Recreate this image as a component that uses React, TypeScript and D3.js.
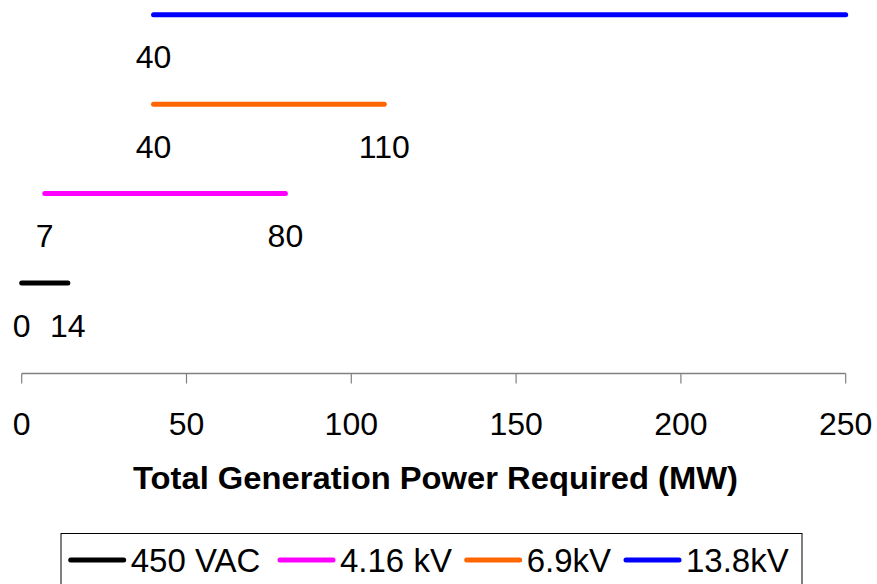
import React from "react";
import * as d3 from "d3";

const seriesNames = ["450 VAC", "4.16 kV", "6.9kV", "13.8kV"];
const rangeStart = [0, 7, 40, 40];
const rangeEnd = [14, 80, 110, 250];
const showEndLabel = [true, true, true, false];
const seriesColors = ["#000000", "#FF00FF", "#FF6600", "#0000FF"];
const xTicks = [0, 50, 100, 150, 200, 250];
const xTitle = "Total Generation Power Required (MW)";

const W = 877;
const H = 584;
const FONT = "'Liberation Sans', Arial, sans-serif";

export default function App() {
  const x = d3.scaleLinear().domain([0, 250]).range([21.7, 845.7]);
  // top-to-bottom order: 13.8kV, 6.9kV, 4.16 kV, 450 VAC
  const y = d3
    .scalePoint<string>()
    .domain([...seriesNames].reverse())
    .range([14.7, 283]);
  const axisY = 373.5;
  const legendX = [70.7, 280, 466.7, 626];

  return (
    <svg
      width={W}
      height={H}
      style={{ position: "absolute", left: 0, top: 0, background: "#fff" }}
      fontFamily={FONT}
    >
      {seriesNames.map((name, i) => {
        const yy = y(name) as number;
        return (
          <g key={name}>
            <line
              x1={x(rangeStart[i])}
              x2={x(rangeEnd[i])}
              y1={yy}
              y2={yy}
              stroke={seriesColors[i]}
              strokeWidth={5}
              strokeLinecap="round"
            />
            <text
              x={x(rangeStart[i])}
              y={yy + 53.5}
              fontSize={32}
              textAnchor="middle"
              fill="#000"
            >
              {rangeStart[i]}
            </text>
            {showEndLabel[i] && (
              <text
                x={x(rangeEnd[i])}
                y={yy + 53.5}
                fontSize={32}
                textAnchor="middle"
                fill="#000"
              >
                {rangeEnd[i]}
              </text>
            )}
          </g>
        );
      })}

      {/* x axis */}
      <line
        x1={x(0)}
        x2={x(250)}
        y1={axisY}
        y2={axisY}
        stroke="#808080"
        strokeWidth={1.5}
      />
      {xTicks.map((t) => (
        <g key={t}>
          <line
            x1={x(t)}
            x2={x(t)}
            y1={axisY}
            y2={axisY + 10}
            stroke="#808080"
            strokeWidth={1.2}
          />
          <text
            x={x(t)}
            y={435}
            fontSize={32}
            textAnchor="middle"
            fill="#000"
          >
            {t}
          </text>
        </g>
      ))}
      <text
        x={435.5}
        y={488.5}
        fontSize={31}
        fontWeight="bold"
        textAnchor="middle"
        fill="#000"
        textLength={605}
        lengthAdjust="spacingAndGlyphs"
      >
        {xTitle}
      </text>

      {/* legend */}
      <rect
        x={61}
        y={533.5}
        width={741}
        height={60}
        fill="none"
        stroke="#000"
        strokeWidth={1}
      />
      {seriesNames.map((name, i) => (
        <g key={"lg" + name}>
          <line
            x1={legendX[i]}
            x2={legendX[i] + 53}
            y1={560}
            y2={560}
            stroke={seriesColors[i]}
            strokeWidth={5}
            strokeLinecap="round"
          />
          <text
            x={legendX[i] + 60}
            y={571.5}
            fontSize={33}
            fill="#000"
          >
            {name}
          </text>
        </g>
      ))}
    </svg>
  );
}
